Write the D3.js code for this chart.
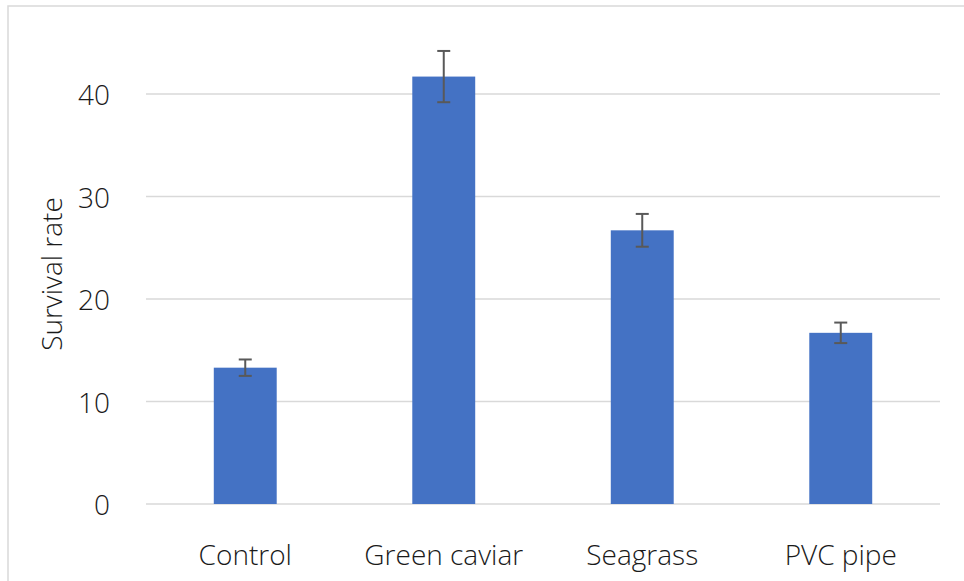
<!DOCTYPE html>
<html>
<head>
<meta charset="utf-8">
<script src="https://cdn.jsdelivr.net/npm/d3@7"></script>
<style>
  html, body { margin: 0; padding: 0; background: #fff; }
  svg { display: block; }
  text { font-family: "Open Sans", "Noto Sans", sans-serif; fill: #1a1a1a; font-weight: 300; }
</style>
</head>
<body>
<svg id="chart" width="964" height="581"></svg>
<script>
const categories = ["Control", "Green caviar", "Seagrass", "PVC pipe"];
const survival = [13.3, 41.7, 26.7, 16.7];
const errors = [0.8, 2.5, 1.6, 1.0];
const yTicks = [0, 10, 20, 30, 40];
const yTitle = "Survival rate";

const svg = d3.select("#chart");
const W = 964, H = 581;
const plot = { left: 146, right: 940, bottom: 504 };
const fontSize = 28;

// chart border
svg.append("rect")
  .attr("x", 8).attr("y", 6)
  .attr("width", W + 10).attr("height", H + 10)
  .attr("fill", "none").attr("stroke", "#d9d9d9").attr("stroke-width", 1.5);

const x = d3.scaleBand()
  .domain(categories)
  .range([plot.left, plot.right])
  .paddingInner(0.683)
  .paddingOuter(0.3415);

const y = d3.scaleLinear()
  .domain([0, 45])
  .range([plot.bottom, plot.bottom - 45 * 10.25]);

// gridlines
svg.append("g")
  .selectAll("line")
  .data(yTicks)
  .join("line")
  .attr("x1", plot.left).attr("x2", plot.right)
  .attr("y1", d => y(d)).attr("y2", d => y(d))
  .attr("stroke", "#d9d9d9").attr("stroke-width", 1.5);

// y axis labels
const yAxis = d3.axisLeft(y).tickValues(yTicks).tickSize(0).tickPadding(0);
const gy = svg.append("g").attr("transform", "translate(110,0)").call(yAxis);
gy.select(".domain").remove();
gy.selectAll("text")
  .attr("font-size", fontSize)
  .attr("font-family", "'Open Sans', sans-serif")
  .attr("font-weight", 300)
  .attr("fill", "#1a1a1a")
  .attr("dy", "0.38em");

// bars
svg.append("g")
  .selectAll("rect")
  .data(categories)
  .join("rect")
  .attr("x", d => x(d))
  .attr("width", x.bandwidth())
  .attr("y", (d, i) => y(survival[i]))
  .attr("height", (d, i) => y(0) - y(survival[i]))
  .attr("fill", "#4472C4");

// error bars
const eb = svg.append("g").attr("stroke", "#595959").attr("stroke-width", 2);
categories.forEach((c, i) => {
  const cx = x(c) + x.bandwidth() / 2;
  const top = y(survival[i] + errors[i]);
  const bot = y(survival[i] - errors[i]);
  eb.append("line").attr("x1", cx).attr("x2", cx).attr("y1", top).attr("y2", bot);
  eb.append("line").attr("x1", cx - 6.5).attr("x2", cx + 6.5).attr("y1", top).attr("y2", top);
  eb.append("line").attr("x1", cx - 6.5).attr("x2", cx + 6.5).attr("y1", bot).attr("y2", bot);
});

// x axis labels
const xAxis = d3.axisBottom(x).tickSize(0).tickPadding(0);
const gx = svg.append("g").attr("transform", "translate(0,565)").call(xAxis);
gx.select(".domain").remove();
gx.selectAll("text")
  .attr("font-size", fontSize)
  .attr("font-family", "'Open Sans', sans-serif")
  .attr("font-weight", 300)
  .attr("fill", "#1a1a1a")
  .attr("dy", 0)
  .attr("y", 0);

// y title
svg.append("text")
  .attr("transform", "translate(62,274) rotate(-90)")
  .attr("text-anchor", "middle")
  .attr("font-size", fontSize)
  .attr("font-weight", 300)
  .text(yTitle);
</script>
</body>
</html>
